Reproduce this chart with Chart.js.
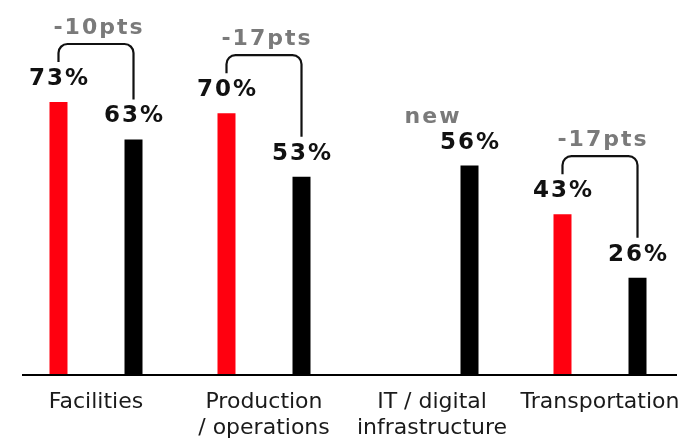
<!DOCTYPE html>
<html>
<head>
<meta charset="utf-8">
<script src="https://cdn.jsdelivr.net/npm/chart.js@4"></script>
<style>
  html, body { margin: 0; padding: 0; background: #fff; overflow: hidden; }
  #wrap { width: 700px; height: 439px; }
</style>
</head>
<body>
<div id="wrap"><canvas id="grafico" width="700" height="439"></canvas></div>
<script>
const categories = [['Facilities'], ['Production', '/ operations'], ['IT / digital', 'infrastructure'], ['Transportation']];
const before = [73, 70, null, 43];   // red bars
const now = [63, 53, 56, 26];        // black bars
const deltaLabels = ['-10pts', '-17pts', 'new', '-17pts'];

const RED = '#ff000f';
const GRAY = '#7a7a7a';

// value labels, brackets and baseline
const annotations = {
  id: 'annotations',
  afterDatasetsDraw(chart) {
    const ctx = chart.ctx;
    const y = chart.scales.y;
    const area = chart.chartArea;

    // baseline
    ctx.save();
    ctx.strokeStyle = '#000';
    ctx.lineWidth = 2;
    ctx.beginPath();
    ctx.moveTo(area.left + 10, y.getPixelForValue(0));
    ctx.lineTo(area.right - 7, y.getPixelForValue(0));
    ctx.stroke();

    ctx.textAlign = 'center';
    ctx.textBaseline = 'alphabetic';

    // labels over bars
    const baselines = [[], []];
    chart.data.datasets.forEach((ds, di) => {
      const meta = chart.getDatasetMeta(di);
      meta.data.forEach((bar, i) => {
        if (ds.data[i] == null) return;
        const by = bar.y - 17;
        baselines[di][i] = by;
        ctx.font = 'bold 23px "DejaVu Sans"';
        ctx.letterSpacing = '2px';
        ctx.fillStyle = '#111';
        ctx.fillText(ds.data[i] + '%', bar.x + 1, by);
      });
    });

    // brackets
    const m0 = chart.getDatasetMeta(0);
    const m1 = chart.getDatasetMeta(1);
    deltaLabels.forEach((txt, i) => {
      ctx.font = 'bold 22px "DejaVu Sans"';
      ctx.letterSpacing = '2px';
      ctx.fillStyle = GRAY;
      if (before[i] == null) {
        ctx.fillText(txt, chart.scales.x.getPixelForValue(i) + 1, baselines[1][i] - 26);
        return;
      }
      const xL = m0.data[i].x;
      const xR = m1.data[i].x;
      const bL = baselines[0][i] - 23;
      const bR = baselines[1][i] - 23;
      const top = Math.min(bL, bR) - 18;
      const r = 9;
      ctx.strokeStyle = '#111';
      ctx.lineWidth = 2.2;
      ctx.beginPath();
      ctx.moveTo(xL, bL);
      ctx.lineTo(xL, top + r);
      ctx.arcTo(xL, top, xL + r, top, r);
      ctx.lineTo(xR - r, top);
      ctx.arcTo(xR, top, xR, top + r, r);
      ctx.lineTo(xR, bR);
      ctx.stroke();
      ctx.fillText(txt, (xL + xR) / 2 + 3, top - 10);
    });
    ctx.restore();
  }
};

new Chart(document.getElementById('grafico'), {
  type: 'bar',
  data: {
    labels: categories,
    datasets: [
      { label: 'Before', data: before, backgroundColor: RED, barPercentage: 0.24, categoryPercentage: 0.893 },
      { label: 'Now', data: now, backgroundColor: '#000', barPercentage: 0.24, categoryPercentage: 0.893 }
    ]
  },
  options: {
    responsive: false,
    animation: false,
    layout: { padding: { top: 1, left: 12, right: 16, bottom: 0 } },
    plugins: { legend: { display: false }, tooltip: { enabled: false } },
    scales: {
      x: {
        grid: { display: false, drawTicks: false },
        border: { display: false },
        ticks: {
          padding: 14,
          color: '#1a1a1a',
          maxRotation: 0,
          autoSkip: false,
          font: { family: '"DejaVu Sans"', size: 22, lineHeight: '26px' }
        },
        afterFit(scale) { scale.height = 64; }
      },
      y: {
        display: false,
        min: 0,
        max: 100
      }
    }
  },
  plugins: [annotations]
});
</script>
</body>
</html>
